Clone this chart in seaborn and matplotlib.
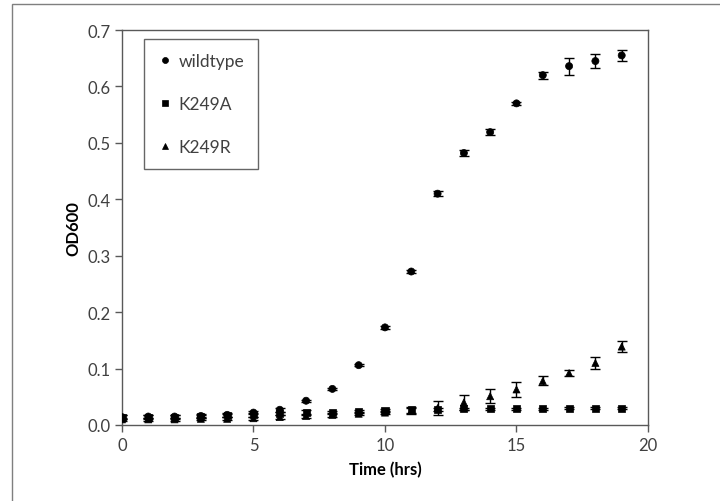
import numpy as np
import pandas as pd
import matplotlib
matplotlib.use('Agg')
import matplotlib.pyplot as plt
import seaborn as sns
from matplotlib.patches import Rectangle

time_hrs = list(range(20))

wildtype = [0.014, 0.015, 0.015, 0.016, 0.018, 0.022, 0.027, 0.043, 0.064, 0.106,
            0.173, 0.272, 0.410, 0.482, 0.519, 0.570, 0.620, 0.636, 0.645, 0.655]
wildtype_err = [0.004, 0.003, 0.003, 0.003, 0.003, 0.003, 0.004, 0.002, 0.002, 0.002,
                0.002, 0.002, 0.005, 0.005, 0.005, 0.003, 0.006, 0.015, 0.012, 0.010]

k249a = [0.014, 0.014, 0.014, 0.015, 0.017, 0.018, 0.020, 0.022, 0.022, 0.024,
         0.026, 0.027, 0.028, 0.029, 0.029, 0.029, 0.029, 0.030, 0.030, 0.030]
k249a_err = [0.003, 0.003, 0.003, 0.003, 0.003, 0.003, 0.003, 0.004, 0.003, 0.003,
             0.003, 0.005, 0.003, 0.002, 0.002, 0.002, 0.002, 0.002, 0.002, 0.002]

k249r = [0.010, 0.010, 0.010, 0.011, 0.011, 0.012, 0.014, 0.016, 0.018, 0.020,
         0.022, 0.025, 0.030, 0.040, 0.051, 0.063, 0.078, 0.092, 0.110, 0.139]
k249r_err = [0.003, 0.003, 0.003, 0.003, 0.003, 0.003, 0.003, 0.003, 0.003, 0.003,
             0.003, 0.005, 0.012, 0.014, 0.012, 0.013, 0.008, 0.006, 0.011, 0.010]

strains = ['wildtype', 'K249A', 'K249R']
markers = {'wildtype': 'o', 'K249A': 's', 'K249R': '^'}

df = pd.concat([
    pd.DataFrame({'time': time_hrs, 'od': wildtype, 'err': wildtype_err, 'strain': 'wildtype'}),
    pd.DataFrame({'time': time_hrs, 'od': k249a, 'err': k249a_err, 'strain': 'K249A'}),
    pd.DataFrame({'time': time_hrs, 'od': k249r, 'err': k249r_err, 'strain': 'K249R'}),
])

sns.set_style('white')
plt.rcParams['font.family'] = ['Lato', 'DejaVu Sans']
txt_col = '#404040'

fig = plt.figure(figsize=(7.2, 5.02), dpi=100)
ax = fig.add_axes([0.1694, 0.1514, 0.7306, 0.7868])

# error bars first, markers on top
for s in strains:
    d = df[df['strain'] == s]
    ax.errorbar(d['time'], d['od'], yerr=d['err'], fmt='none', ecolor='black',
                elinewidth=1, capsize=3.5, capthick=1, zorder=2)

sns.scatterplot(data=df, x='time', y='od', style='strain', markers=markers,
                style_order=strains, color='black', edgecolor='black', s=26,
                linewidth=0.5, ax=ax, zorder=3)

ax.set_xlim(0, 20)
ax.set_ylim(0, 0.7)
ax.set_xticks([0, 5, 10, 15, 20])
ax.set_yticks(np.arange(0, 0.71, 0.1))
ax.set_yticklabels(['%.1f' % v for v in np.arange(0, 0.71, 0.1)])
ax.tick_params(direction='out', length=5, width=1, colors='#595959',
               labelcolor=txt_col, labelsize=12, bottom=True, left=True)
for sp in ax.spines.values():
    sp.set_color('#595959')
    sp.set_linewidth(1)

ax.set_xlabel('Time (hrs)', fontsize=12, fontweight='bold', color='black', labelpad=6)
ax.set_ylabel('OD600', fontsize=12, fontweight='bold', color='black', labelpad=4)

leg = ax.legend(loc='upper left', bbox_to_anchor=(0.042, 0.977), borderaxespad=0,
                frameon=True, fancybox=False, labelspacing=1.55, handlelength=0.8,
                handletextpad=0.4, borderpad=0.8, fontsize=12.5, markerscale=0.85)
leg.get_frame().set_edgecolor('#404040')
leg.get_frame().set_linewidth(1)
for t in leg.get_texts():
    t.set_color(txt_col)

# outer chart border
fig.patches.append(Rectangle((12 / 720, -0.1), 1.2, 1 - 5 / 502 + 0.1,
                             transform=fig.transFigure, fill=False,
                             edgecolor='#7f7f7f', linewidth=1))

plt.savefig('out.png', dpi=100)
